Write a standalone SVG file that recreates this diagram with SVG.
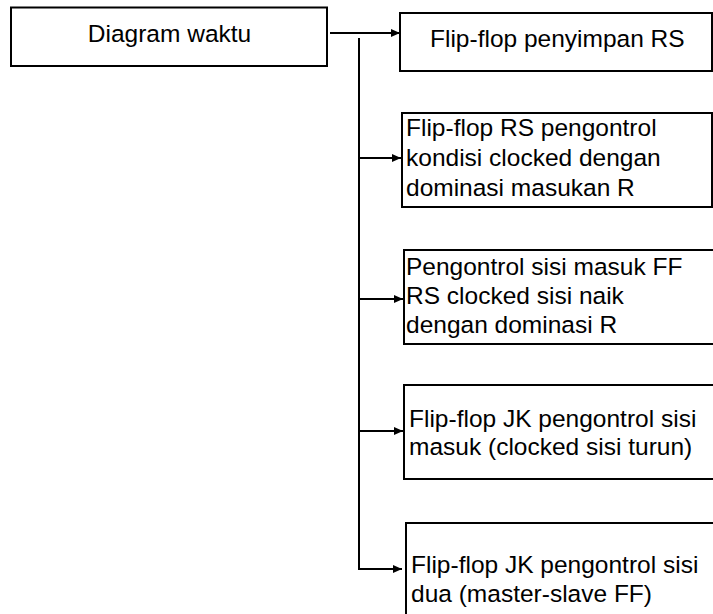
<svg xmlns="http://www.w3.org/2000/svg" width="713" height="614" viewBox="0 0 713 614">
<style>
.box{fill:#fff;stroke:#000;stroke-width:2}
.t{font-family:"Liberation Sans",Arial,sans-serif;font-size:24.5px;fill:#000}
.c{fill:none;stroke:#000;stroke-width:2}
</style>
<defs>
<marker id="ah" markerWidth="10" markerHeight="8" refX="9" refY="4" orient="auto" markerUnits="userSpaceOnUse">
<path d="M0,0 L9,4 L0,8 Z" fill="#000"/>
</marker>
</defs>
<rect width="713" height="614" fill="#fff"/>
<g id="connectors">
<line class="c" x1="330" y1="33" x2="400" y2="33" marker-end="url(#ah)"/>
<polyline class="c" points="359,38 359,569 402,569" marker-end="url(#ah)"/>
<line class="c" x1="359" y1="158" x2="401" y2="158" marker-end="url(#ah)"/>
<line class="c" x1="359" y1="299" x2="403" y2="299" marker-end="url(#ah)"/>
<line class="c" x1="359" y1="431" x2="403" y2="431" marker-end="url(#ah)"/>
</g>
<g id="n0">
<rect class="box" x="11" y="7.5" width="316" height="58.5"/>
<text class="t" x="169.5" y="42" text-anchor="middle">Diagram waktu</text>
</g>
<g id="n1">
<rect class="box" x="400" y="13" width="312" height="58"/>
<text class="t" x="430" y="47">Flip-flop penyimpan RS</text>
</g>
<g id="n2">
<rect class="box" x="402" y="113" width="310" height="94"/>
<text class="t" x="406" y="136">Flip-flop RS pengontrol</text>
<text class="t" x="406" y="166">kondisi clocked dengan</text>
<text class="t" x="406" y="196">dominasi masukan R</text>
</g>
<g id="n3">
<rect class="box" x="404" y="250" width="312" height="94"/>
<text class="t" x="406" y="275">Pengontrol sisi masuk FF</text>
<text class="t" x="406" y="304">RS clocked sisi naik</text>
<text class="t" x="406" y="333">dengan dominasi R</text>
</g>
<g id="n4">
<rect class="box" x="404" y="385" width="312" height="94"/>
<text class="t" x="409" y="427">Flip-flop JK pengontrol sisi</text>
<text class="t" x="409" y="455">masuk (clocked sisi turun)</text>
</g>
<g id="n5">
<rect class="box" x="406" y="523" width="312" height="100"/>
<text class="t" x="411" y="573">Flip-flop JK pengontrol sisi</text>
<text class="t" x="411" y="602">dua (master-slave FF)</text>
</g>
</svg>
